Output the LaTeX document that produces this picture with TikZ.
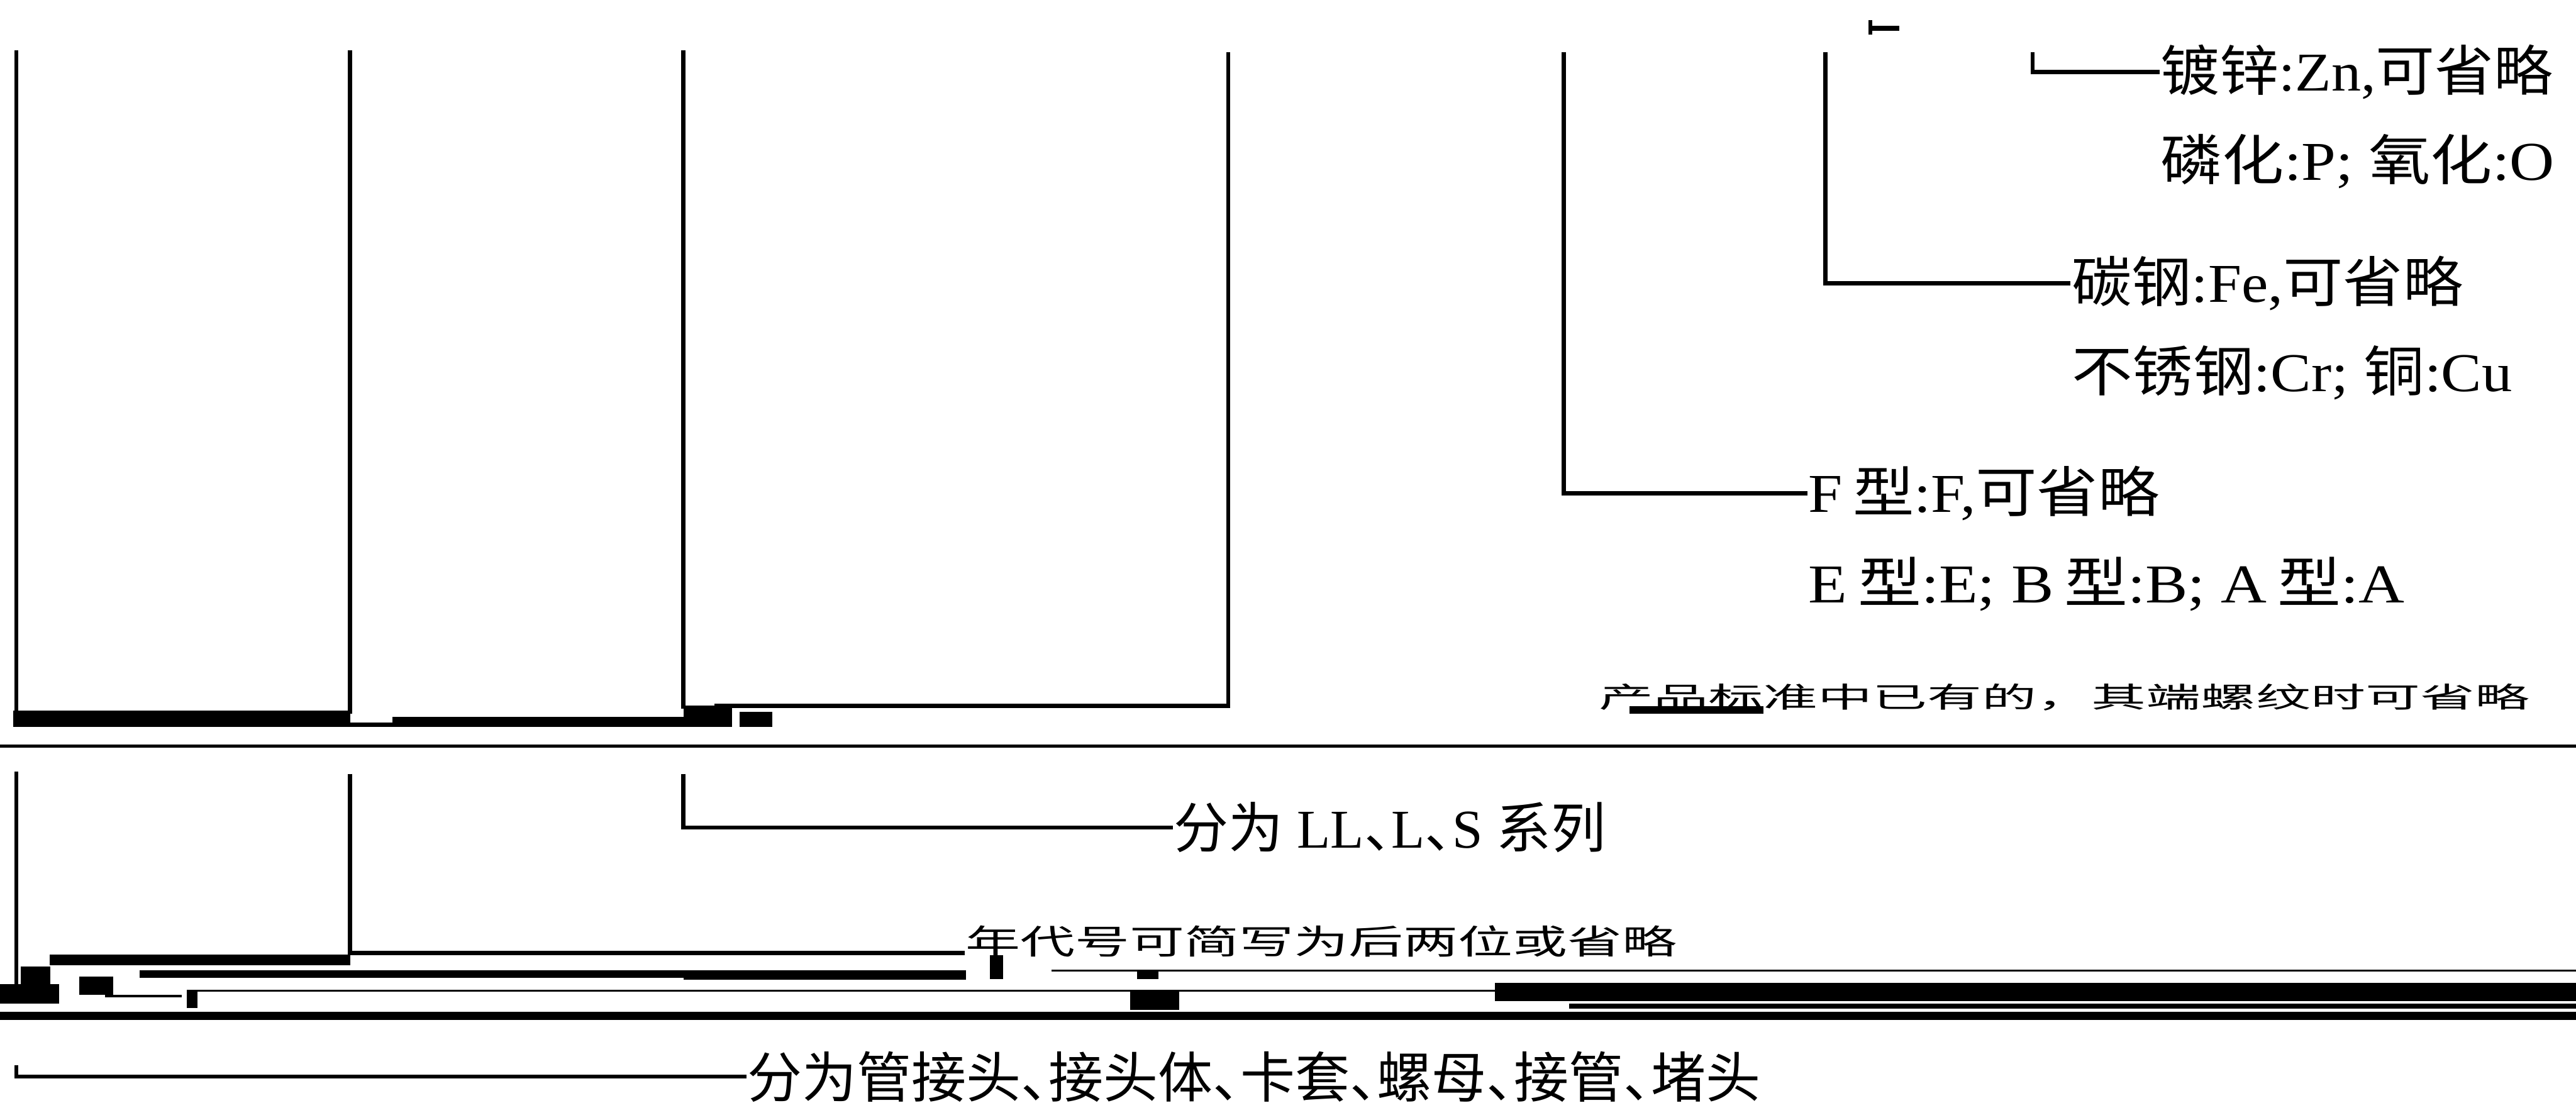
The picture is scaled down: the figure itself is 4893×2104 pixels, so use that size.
\documentclass[tikz,border=0pt]{standalone}
\usepackage{fontspec}
\setmainfont{Liberation Serif}
\newfontfamily\cjk{Noto Sans CJK SC}
\newcommand\zhtxt[1]{{\cjk #1}}
\newcommand\dunhao{\makebox[0.5em][l]{\cjk 、}}
\newcommand\wid[2]{\scalebox{#1}[1]{#2}}
\begin{document}
\begin{tikzpicture}[x=0.1pt,y=-0.1pt,
  vline/.style={line width=0.8pt,line cap=rect},
  conn/.style={line width=0.8pt},
  lbl/.style={anchor=west,inner sep=0pt,font=\fontsize{10.4}{12}\selectfont},
  blot/.style={fill=black,draw=none}]
\useasboundingbox (0,0) rectangle (4893,2104);
% ---------- top section: labels ----------
\node[lbl] (zn)  at (4102,137) {\wid{1.08}{\zhtxt{镀锌}:Zn,\zhtxt{可省略}}};
\node[lbl] (po)  at (4102,307) {\wid{1.13}{\zhtxt{磷化}:P; \zhtxt{氧化}:O}};
\node[lbl] (fe)  at (3933,538) {\wid{1.095}{\zhtxt{碳钢}:Fe,\zhtxt{可省略}}};
\node[lbl] (cr)  at (3933,708) {\wid{1.11}{\zhtxt{不锈钢}:Cr; \zhtxt{铜}:Cu}};
\node[lbl] (ff)  at (3433,937) {\wid{1.12}{F\,\zhtxt{型}:F,\zhtxt{可省略}}};
\node[lbl] (eba) at (3433,1110) {\wid{1.16}{E\,\zhtxt{型}:E; B\,\zhtxt{型}:B; A\,\zhtxt{型}:A}};
\node[lbl] (thr) at (3035,1324) {\scalebox{1}[0.52]{\zhtxt{产品标准中已有的，其端螺纹时可省略}}};
% ---------- top section: line tops ----------
\coordinate (a1) at (31,99);
\coordinate (a2) at (665,99);
\coordinate (a3) at (1298,99);
\coordinate (a4) at (2333,99);
\coordinate (a5) at (2970,99);
\coordinate (a6) at (3467,99);
\coordinate (a7) at (3861,99);
\coordinate (b1) at (31,1352);
\coordinate (b2) at (665,1352);
\coordinate (b3) at (1298,1342);
\coordinate (b4) at (2333,1341);
\coordinate (b4e) at (1357,1341);
\draw[vline] (a1) -- (b1);
\draw[vline] (a2) -- (b2);
\draw[vline] (a3) -- (b3);
\draw[conn] (a4) -- (b4) -- (b4e);
\draw[conn] (a5) |- (ff.west);
\draw[conn] (a6) |- (fe.west);
\draw[conn] (a7) |- (zn.west);
% small mark at the top
\coordinate (m1) at (3553,38);
\coordinate (m2) at (3553,66);
\draw[line width=0.7pt] (m1) -- (m2);
\fill (3553,49) rectangle (3608,58);
% damaged band (top)
\fill[blot] (25,1350) rectangle (665,1381);
\fill[blot] (745,1362) rectangle (1298,1381);
\fill[blot] (665,1372) rectangle (745,1381);
\fill[blot] (1298,1340) rectangle (1390,1381);
\fill[blot] (1405,1352) rectangle (1467,1381);
\fill[blot] (3095,1342) rectangle (3350,1356);
% horizontal rule
\coordinate (r1) at (0,1417);
\coordinate (r2) at (4893,1417);
\draw[line width=0.55pt] (r1) -- (r2);
% ---------- lower section ----------
\node[lbl] (ll) at (2228,1572) {\zhtxt{分为} LL\dunhao L\dunhao S \zhtxt{系列}};
\node[lbl,anchor=south west] (yr) at (1832,1820) {\scalebox{1}[0.62]{\zhtxt{年代号可简写为后两位或省略}}};
\node[lbl] (pt) at (1418,2045) {\zhtxt{分为管接头}\dunhao\zhtxt{接头体}\dunhao\zhtxt{卡套}\dunhao\zhtxt{螺母}\dunhao\zhtxt{接管}\dunhao\zhtxt{堵头}};
\coordinate (c1) at (31,1470);
\coordinate (c2) at (665,1470);
\coordinate (c3) at (1298,1470);
\coordinate (d1) at (31,1872);
\coordinate (yrend) at (1832,1810);
\coordinate (e1) at (31,2023);
\draw[vline] (c1) -- (d1);
\draw[conn] (c2) |- (yrend);
\draw[conn] (c3) |- (ll.west);
\draw[conn] (e1) |- (pt.west);
% damaged band (bottom)
\fill[blot] (94,1813) rectangle (665,1834);
\fill[blot] (265,1843) rectangle (1835,1858);
\fill[blot] (1298,1858) rectangle (1835,1861);
\fill[blot] (1880,1815) rectangle (1905,1860);
\fill[blot] (2160,1843) rectangle (2200,1860);
\draw[line width=0.35pt] (1997,1844) -- (4893,1844);
\draw[line width=0.35pt] (360,1882) -- (2840,1882);
\fill[blot] (2840,1867) rectangle (4893,1902);
\fill[blot] (2980,1906) rectangle (4893,1916);
\fill[blot] (2147,1883) rectangle (2240,1918);
\fill[blot] (0,1922) rectangle (4893,1937);
\fill[blot] (0,1870) rectangle (112,1906);
\fill[blot] (40,1836) rectangle (95,1870);
\fill[blot] (150,1855) rectangle (215,1890);
\fill[blot] (200,1890) rectangle (345,1895);
\fill[blot] (355,1880) rectangle (375,1915);
\end{tikzpicture}
\end{document}
